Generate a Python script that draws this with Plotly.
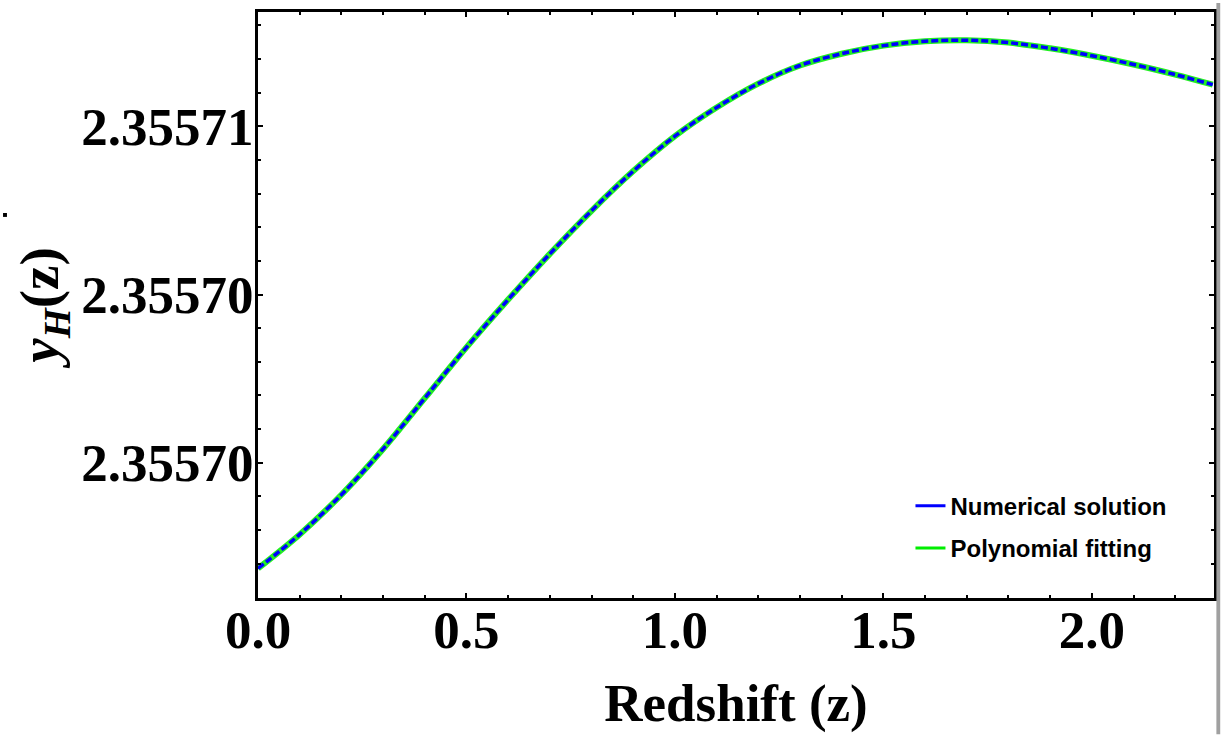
import plotly.graph_objects as go

# Redshift samples
z = [0.0, 0.1, 0.2, 0.3, 0.4, 0.5, 0.6, 0.7, 0.8, 0.9, 1.0, 1.1, 1.2, 1.3,
     1.4, 1.5, 1.6, 1.7, 1.8, 1.9, 2.0, 2.1, 2.2, 2.29]

yh_numerical = [2.35569686, 2.35569787, 2.35569905, 2.35570041, 2.35570192,
                2.35570343, 2.35570485, 2.35570621, 2.35570749, 2.35570867,
                2.35570971, 2.35571056, 2.35571127, 2.35571181, 2.35571216,
                2.35571240, 2.35571253, 2.35571256, 2.35571249, 2.35571232,
                2.35571210, 2.35571184, 2.35571154, 2.35571124]

yh_polynomial = [2.35569686, 2.35569787, 2.35569905, 2.35570041, 2.35570192,
                 2.35570343, 2.35570485, 2.35570621, 2.35570749, 2.35570867,
                 2.35570971, 2.35571056, 2.35571127, 2.35571181, 2.35571216,
                 2.35571240, 2.35571253, 2.35571256, 2.35571249, 2.35571232,
                 2.35571210, 2.35571184, 2.35571154, 2.35571124]

x_tickvals = [0.0, 0.5, 1.0, 1.5, 2.0]
x_ticktext = ["0.0", "0.5", "1.0", "1.5", "2.0"]
y_tickvals = [2.3557, 2.355705, 2.35571]
y_ticktext = ["2.35570", "2.35570", "2.35571"]

x_range = [0.0, 2.293]
y_range = [2.35569598, 2.35571340]

fig = go.Figure()

# curves (green underneath, blue dashed on top)
fig.add_trace(go.Scatter(x=z, y=yh_polynomial, mode="lines", line_shape="spline",
                         line=dict(color="#22ee22", width=6), showlegend=False,
                         hoverinfo="skip"))
fig.add_trace(go.Scatter(x=z, y=yh_numerical, mode="lines", line_shape="spline",
                         line=dict(color="#0000ff", width=3.5, dash="7px,3px"),
                         showlegend=False, hoverinfo="skip"))

# legend entries (solid lines as in the reference legend)
fig.add_trace(go.Scatter(x=[None], y=[None], mode="lines", name="Numerical solution",
                         legendgroup="a", line=dict(color="#0000ff", width=3)))
fig.add_trace(go.Scatter(x=[None], y=[None], mode="lines", name="Polynomial fitting",
                         legendgroup="b", line=dict(color="#00ee00", width=3)))

tickfont = dict(family="Liberation Serif", size=53, color="black", weight="bold")

fig.update_layout(
    width=1228, height=735,
    margin=dict(l=258, r=14, t=9, b=137),
    plot_bgcolor="white", paper_bgcolor="white",
    showlegend=True,
    legend=dict(x=0.6825, y=0.195, xanchor="left", yanchor="top",
                bgcolor="rgba(0,0,0,0)", tracegroupgap=8,
                font=dict(family="Liberation Sans", size=24, color="black", weight="bold")),
    xaxis=dict(range=x_range, tickmode="array", tickvals=x_tickvals, ticktext=x_ticktext,
               tickfont=tickfont, ticks="inside", ticklen=5, tickwidth=2, tickcolor="black",
               ticklabelstandoff=-17,
               showline=True, linecolor="black", linewidth=3, mirror="ticks",
               showgrid=False, zeroline=False,
               minor=dict(dtick=0.1, tick0=0, ticks="inside", ticklen=3, tickwidth=1.5,
                          tickcolor="black", showgrid=False),
               title=dict(text="Redshift (z)", standoff=27,
                          font=dict(family="Liberation Serif", size=53, color="black",
                                    weight="bold"))),
    yaxis=dict(range=y_range, tickmode="array", tickvals=y_tickvals, ticktext=y_ticktext,
               tickfont=tickfont, ticks="inside", ticklen=5, tickwidth=2, tickcolor="black",
               ticklabelstandoff=-9,
               showline=True, linecolor="black", linewidth=3, mirror="ticks",
               showgrid=False, zeroline=False,
               minor=dict(dtick=1e-6, tick0=2.3557, ticks="inside", ticklen=3, tickwidth=1.5,
                          tickcolor="black", showgrid=False),
               title=dict(text="<i>y</i><sub><i>H</i></sub>(z)", standoff=5,
                          font=dict(family="Liberation Serif", size=55, color="black",
                                    weight="bold"))),
    shapes=[
        dict(type="rect", xref="paper", yref="paper", x0=1.0025, x1=1.0065,
             y0=-0.2326, y1=1.0153, fillcolor="#a0a0a0", line=dict(width=0)),
        dict(type="rect", xref="paper", yref="paper", x0=-0.2667, x1=-0.2626,
             y0=0.6503, y1=0.6570, fillcolor="black", line=dict(width=0)),
    ],
)

fig.write_html("out.html")
